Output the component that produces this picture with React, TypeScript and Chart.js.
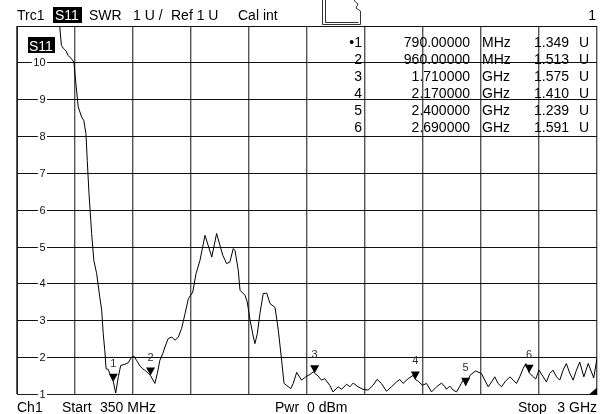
import React, { useEffect, useRef } from "react";
import { Chart, registerables } from "chart.js";

Chart.register(...registerables);

// ---- data ----
const startMHz = 350;
const stopMHz = 3000;
const xDivMHz = 265;
const swrMin = 1;
const swrMax = 11;

const traceFreqMHz = [
  350, 450, 530, 545, 553, 561, 573, 584, 600, 610, 619, 630, 645, 655, 665, 671, 679, 687, 691, 701,
  714, 728, 737, 744, 751, 757, 767, 774, 790, 801, 813, 824, 843, 858, 874, 884, 896, 912, 924, 934,
  950, 960, 980, 991, 1003, 1016, 1026, 1041, 1057, 1072, 1087, 1102, 1118, 1133, 1153, 1168, 1186, 1209, 1240, 1262,
  1290, 1308, 1323, 1338, 1346, 1361, 1369, 1392, 1402, 1415, 1430, 1437, 1448, 1460, 1475, 1491, 1506, 1529, 1544, 1559,
  1570, 1590, 1601, 1612, 1628, 1650, 1670, 1690, 1705, 1710, 1726, 1741, 1756, 1779, 1794, 1817, 1833, 1856, 1871, 1886,
  1908, 1931, 1954, 1977, 1995, 2015, 2038, 2061, 2084, 2099, 2114, 2137, 2160, 2170, 2183, 2203, 2221, 2244, 2267, 2290,
  2305, 2312, 2327, 2343, 2358, 2370, 2380, 2390, 2400, 2420, 2445, 2472, 2487, 2503, 2518, 2533, 2548, 2564, 2579, 2602,
  2617, 2632, 2647, 2662, 2675, 2690, 2705, 2720, 2735, 2754, 2769, 2784, 2799, 2815, 2830, 2845, 2860, 2876, 2891, 2906,
  2921, 2940, 2960, 2985, 3000,
];
const traceSWR = [
  16, 14, 11.8, 11.0, 10.47, 10.4, 10.33, 10.2, 10.1, 10.02, 9.43, 8.8, 8.53, 8.44, 8.08, 7.35, 6.45, 5.73, 5.37, 4.64,
  4.28, 3.65, 3.29, 2.65, 2.2, 1.7, 1.68, 1.57, 1.349, 1.04, 1.48, 1.79, 1.82, 1.86, 2.02, 2.04, 1.93, 1.77, 1.7, 1.66,
  1.57, 1.513, 1.3, 1.57, 1.93, 2.11, 2.29, 2.52, 2.56, 2.47, 2.56, 2.79, 3.2, 3.6, 3.78, 4.28, 4.64, 5.32, 4.73, 5.37,
  4.78, 4.55, 4.6, 4.96, 4.91, 4.37, 3.83, 3.69, 3.51, 3.01, 2.56, 2.38, 2.65, 3.2, 3.74, 3.75, 3.47, 3.36, 2.74, 1.93,
  1.3, 1.21, 1.16, 1.3, 1.6, 1.39, 1.48, 1.55, 1.62, 1.575, 1.5, 1.39, 1.43, 1.25, 1.07, 1.21, 1.14, 1.28, 1.21, 1.31,
  1.21, 1.14, 1.12, 1.25, 1.41, 1.3, 1.09, 1.21, 1.34, 1.41, 1.3, 1.43, 1.52, 1.41, 1.36, 1.25, 1.3, 1.07, 1.21, 1.31,
  1.21, 1.14, 1.23, 1.12, 1.07, 1.19, 1.3, 1.41, 1.239, 1.52, 1.64, 1.57, 1.39, 1.21, 1.34, 1.48, 1.3, 1.21, 1.34, 1.48,
  1.39, 1.3, 1.48, 1.7, 1.84, 1.591, 1.5, 1.42, 1.66, 1.48, 1.34, 1.57, 1.66, 1.48, 1.39, 1.66, 1.84, 1.57, 1.39, 1.66,
  1.88, 1.48, 1.84, 1.45, 1.98,
];

const markerIds = ["1", "2", "3", "4", "5", "6"];
const markerFreqMHz = [790, 960, 1710, 2170, 2400, 2690];
const markerSWR = [1.349, 1.513, 1.575, 1.41, 1.239, 1.591];
const markerFreqText = ["790.00000", "960.00000", "1.710000", "2.170000", "2.400000", "2.690000"];
const markerUnitText = ["MHz", "MHz", "GHz", "GHz", "GHz", "GHz"];
const markerValueText = ["1.349", "1.513", "1.575", "1.410", "1.239", "1.591"];

const yTickValues = [10, 9, 8, 7, 6, 5, 4, 3, 2, 1];
const yTickLabels = ["10", "9", "8", "7", "6", "5", "4", "3", "2", "1"];

const headerTrace = "Trc1";
const headerParam = "S11";
const headerFormat = "SWR";
const headerScale = "1 U /";
const headerRef = "Ref 1 U";
const headerCal = "Cal int";
const headerChannel = "1";
const footerChannel = "Ch1";
const footerStartLabel = "Start";
const footerStartValue = "350 MHz";
const footerPwrLabel = "Pwr";
const footerPwrValue = "0 dBm";
const footerStopLabel = "Stop";
const footerStopValue = "3 GHz";

const FONT = "'Liberation Sans', Arial, sans-serif";

const overlayPlugin = {
  id: "vnaOverlay",
  beforeDatasetsDraw(chart: any) {
    const { ctx, chartArea } = chart;
    const ys = chart.scales.y;
    ctx.save();
    // y tick labels inside the plot with white backdrop
    ctx.font = `11px ${FONT}`;
    ctx.textBaseline = "middle";
    ctx.textAlign = "right";
    yTickValues.forEach((v, i) => {
      const y = ys.getPixelForValue(v);
      const txt = yTickLabels[i];
      const w = ctx.measureText(txt).width;
      const right = chartArea.left + 28.5;
      ctx.fillStyle = "#fff";
      ctx.fillRect(right - w - 1.5, y - 5, w + 3, 10);
      ctx.fillStyle = "#111";
      ctx.fillText(txt, right, y + 0.5);
    });
    // trace label box
    ctx.font = `14px ${FONT}`;
    ctx.textAlign = "left";
    ctx.textBaseline = "alphabetic";
    ctx.fillStyle = "#000";
    ctx.fillRect(chartArea.left + 11, chartArea.top + 11, 27, 16);
    ctx.fillStyle = "#fff";
    ctx.fillText(headerParam, chartArea.left + 12, chartArea.top + 24.5);
    ctx.restore();
  },
  afterDatasetsDraw(chart: any) {
    const { ctx, chartArea } = chart;
    const xs = chart.scales.x;
    const ys = chart.scales.y;
    ctx.save();
    // markers
    markerIds.forEach((id, i) => {
      const x = xs.getPixelForValue(markerFreqMHz[i]);
      const y = ys.getPixelForValue(markerSWR[i]);
      ctx.fillStyle = "#000";
      ctx.beginPath();
      ctx.moveTo(x, y);
      ctx.lineTo(x - 4.5, y - 8);
      ctx.lineTo(x + 4.5, y - 8);
      ctx.closePath();
      ctx.fill();
      ctx.font = `11px ${FONT}`;
      ctx.textAlign = "center";
      ctx.textBaseline = "middle";
      ctx.fillStyle = "#333";
      ctx.fillText(id, x, y - 18);
    });
    // marker table
    ctx.font = `14px ${FONT}`;
    ctx.textBaseline = "alphabetic";
    ctx.fillStyle = "#000";
    markerIds.forEach((id, i) => {
      const base = chartArea.top + 20.7 + 17 * i;
      ctx.textAlign = "right";
      ctx.fillText((i === 0 ? "\u2022" : "") + id, 362, base);
      ctx.fillText(markerFreqText[i], 470, base);
      ctx.textAlign = "left";
      ctx.fillText(markerUnitText[i], 482, base);
      ctx.textAlign = "right";
      ctx.fillText(markerValueText[i], 569, base);
      ctx.textAlign = "left";
      ctx.fillText("U", 579, base);
    });
    // bottom-right corner indicator
    ctx.fillStyle = "#000";
    ctx.beginPath();
    ctx.moveTo(chartArea.right, chartArea.bottom - 7);
    ctx.lineTo(chartArea.right, chartArea.bottom);
    ctx.lineTo(chartArea.right - 8, chartArea.bottom);
    ctx.closePath();
    ctx.fill();
    ctx.restore();
  },
  afterDraw(chart: any) {
    const { ctx, chartArea } = chart;
    ctx.save();
    ctx.font = `14px ${FONT}`;
    ctx.textBaseline = "alphabetic";
    ctx.textAlign = "left";
    ctx.fillStyle = "#000";
    // header
    ctx.fillText(headerTrace, 17, 20);
    ctx.fillRect(53, 7, 29, 16);
    ctx.fillStyle = "#fff";
    ctx.fillText(headerParam, 55, 20);
    ctx.fillStyle = "#000";
    ctx.fillText(headerFormat, 89, 20);
    ctx.fillText(headerScale, 133, 20);
    ctx.fillText(headerRef, 171, 20);
    ctx.fillText(headerCal, 238, 20);
    ctx.textAlign = "right";
    ctx.fillText(headerChannel, 596, 20);
    // footer
    ctx.textAlign = "left";
    ctx.fillText(footerChannel, 17, 412);
    ctx.fillText(footerStartLabel, 62, 412);
    ctx.fillText(footerStartValue, 100, 412);
    ctx.fillText(footerPwrLabel, 275, 412);
    ctx.fillText(footerPwrValue, 307, 412);
    ctx.fillText(footerStopLabel, 518, 412);
    ctx.textAlign = "right";
    ctx.fillText(footerStopValue, chartArea.right, 412);
    // status icon
    ctx.strokeStyle = "#333";
    ctx.lineWidth = 1;
    ctx.beginPath();
    ctx.moveTo(322.5, 0);
    ctx.lineTo(322.5, 24.5);
    ctx.lineTo(360.5, 24.5);
    ctx.lineTo(360.5, 11);
    ctx.lineTo(356, 8);
    ctx.lineTo(358, 4);
    ctx.lineTo(354.5, 1);
    ctx.lineTo(354.5, 0);
    ctx.moveTo(325.5, 0);
    ctx.lineTo(325.5, 22.5);
    ctx.lineTo(358.5, 22.5);
    ctx.stroke();
    ctx.restore();
  },
};

export default function App() {
  const ref = useRef<HTMLCanvasElement | null>(null);

  useEffect(() => {
    document.body.style.margin = "0";
    const canvas = ref.current;
    if (!canvas) return;
    const points = traceFreqMHz.map((f, i) => ({ x: f, y: traceSWR[i] }));
    const chart = new Chart(canvas, {
      type: "line",
      data: {
        datasets: [
          {
            data: points,
            borderColor: "#000",
            borderWidth: 1,
            pointRadius: 0,
            tension: 0,
            fill: false,
          },
        ],
      },
      options: {
        animation: false,
        responsive: false,
        devicePixelRatio: 1,
        layout: { padding: { left: 17, right: 11, top: 26, bottom: 19.5 } },
        plugins: { legend: { display: false }, tooltip: { enabled: false } },
        scales: {
          x: {
            type: "linear",
            min: startMHz,
            max: stopMHz,
            ticks: { display: false, stepSize: xDivMHz },
            grid: { drawTicks: false, color: "#555", lineWidth: 1.4 },
            border: { display: true, color: "#222", width: 1 },
          },
          y: {
            type: "linear",
            min: swrMin,
            max: swrMax,
            ticks: { display: false, stepSize: 1 },
            grid: { drawTicks: false, color: "#111", lineWidth: 1 },
            border: { display: true, color: "#222", width: 1 },
          },
        },
      },
      plugins: [overlayPlugin],
    });
    return () => chart.destroy();
  }, []);

  return (
    <div style={{ position: "absolute", left: 0, top: 0, width: 608, height: 414, background: "#fff" }}>
      <canvas ref={ref} width={608} height={414} style={{ display: "block" }} />
    </div>
  );
}
